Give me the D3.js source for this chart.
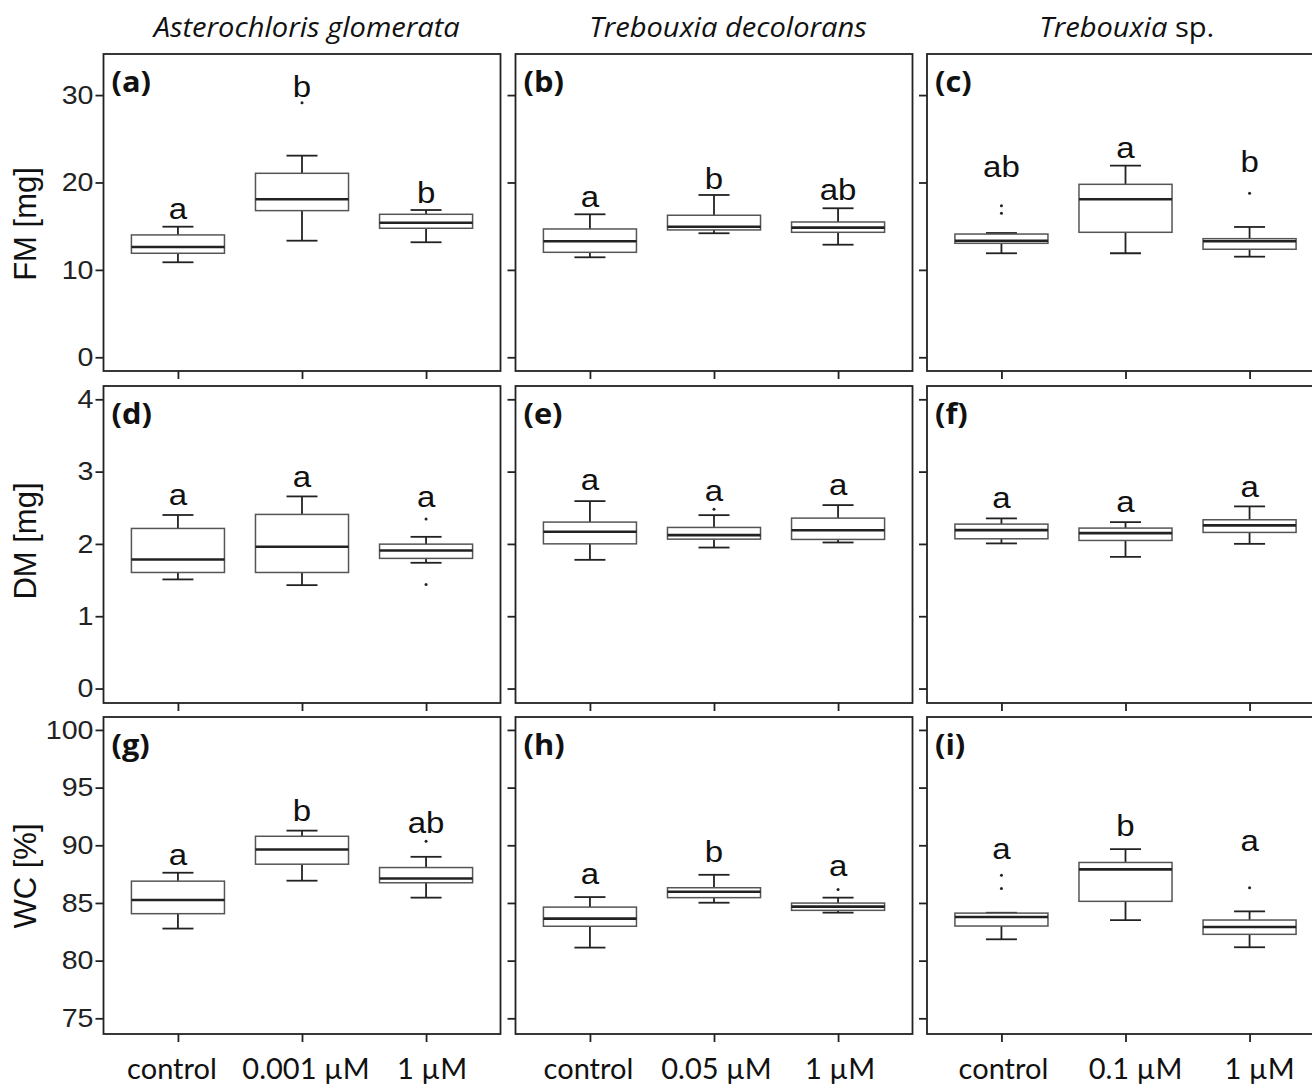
<!DOCTYPE html>
<html><head><meta charset="utf-8">
<script src="https://cdn.jsdelivr.net/npm/d3@7"></script>
<style>body{margin:0;background:#fff;overflow:hidden}</style>
</head><body><svg id="c" width="1312" height="1085"></svg>
<script>
// ---------- data ----------
const species = ["Asterochloris glomerata", "Trebouxia decolorans", "Trebouxia"];
const speciesSuffix = ["", "", " sp."];
const treatments = [
  ["control", "0.001 µM", "1 µM"],
  ["control", "0.05 µM", "1 µM"],
  ["control", "0.1 µM", "1 µM"]
];
const variables = ["FM [mg]", "DM [mg]", "WC [%]"];
const yTicks = [[0, 10, 20, 30], [0, 1, 2, 3, 4], [75, 80, 85, 90, 95, 100]];
const yDomains = [[-1.57, 34.7], [-0.2, 4.184], [73.64, 101.12]];
const panelLabels = [["(a)", "(b)", "(c)"], ["(d)", "(e)", "(f)"], ["(g)", "(h)", "(i)"]];

// box statistics: [lower whisker, Q1, median, Q3, upper whisker]
const fmStats = [
  [[10.87, 11.9, 12.62, 14.0, 14.94], [13.34, 16.78, 18.08, 21.05, 23.07], [13.16, 14.76, 15.4, 16.36, 16.85]],
  [[11.44, 12.01, 13.27, 14.68, 16.36], [14.19, 14.57, 14.94, 16.25, 18.57], [12.88, 14.3, 14.83, 15.48, 17.05]],
  [[11.9, 13.04, 13.34, 14.1, 14.22], [11.9, 14.3, 18.08, 19.79, 21.92], [11.51, 12.36, 13.27, 13.57, 14.91]]
];
const dmStats = [
  [[1.509, 1.605, 1.785, 2.214, 2.40], [1.43, 1.605, 1.96, 2.408, 2.657], [1.739, 1.80, 1.91, 1.997, 2.098]],
  [[1.78, 2.001, 2.168, 2.302, 2.592], [1.95, 2.066, 2.122, 2.228, 2.398], [2.02, 2.062, 2.19, 2.357, 2.537]],
  [[2.007, 2.071, 2.191, 2.274, 2.353], [1.822, 2.048, 2.15, 2.219, 2.302], [2.001, 2.159, 2.256, 2.334, 2.519]]
];
const wcStats = [
  [[82.78, 84.07, 85.25, 86.89, 87.62], [86.93, 88.36, 89.63, 90.78, 91.27], [85.46, 86.75, 87.12, 88.07, 89.0]],
  [[81.13, 82.98, 83.64, 84.64, 85.51], [85.02, 85.46, 85.97, 86.32, 87.44], [84.16, 84.36, 84.68, 84.99, 85.46]],
  [[81.85, 83.0, 83.78, 84.12, 84.15], [83.52, 85.14, 87.91, 88.51, 89.66], [81.16, 82.28, 82.92, 83.52, 84.27]]
];
const fmOutliers = [[[], [29.13], []], [[], [], []], [[17.35, 16.47], [], [18.76]]];
const dmOutliers = [[[], [], [2.343, 1.44]], [[], [2.478], []], [[], [], []]];
const wcOutliers = [[[], [], [90.35]], [[], [], [86.17]], [[87.41, 86.26], [], [86.32]]];

const fmLetters = [["a", "b", "b"], ["a", "b", "ab"], ["ab", "a", "b"]];
const dmLetters = [["a", "a", "a"], ["a", "a", "a"], ["a", "a", "a"]];
const wcLetters = [["a", "b", "ab"], ["a", "b", "a"], ["a", "b", "a"]];
const fmLetterY = [[15.8, 29.8, 17.7], [17.2, 19.3, 18.0], [20.66, 22.84, 21.24]];
const dmLetterY = [[2.54, 2.79, 2.505], [2.745, 2.597, 2.675], [2.50, 2.445, 2.652]];
const wcLetterY = [[88.33, 92.08, 91.07], [86.67, 88.53, 87.32], [88.79, 90.78, 89.52]];

const statsByRow = [fmStats, dmStats, wcStats];
const outliersByRow = [fmOutliers, dmOutliers, wcOutliers];
const lettersByRow = [fmLetters, dmLetters, wcLetters];
const letterYByRow = [fmLetterY, dmLetterY, wcLetterY];

// ---------- layout ----------
const panelLeft = [103.5, 515.5, 927];
const panelW = 397;
const panelTop = [54, 386, 717];
const panelH = 317;
const yTitleCenter = [224, 541, 876];
const titleCenter = [306.7, 728, 1126.7];
const xLabelShift = [[-6, 4, 6], [-1.5, 2.5, 2], [2, 10, 10]];
const SX = 1.1; // horizontal stretch of plot text
const svg = d3.select("#c");
const AR = "'Liberation Sans', Arial, sans-serif";
const CAL = "Lato, 'Open Sans', sans-serif";
const OS = "'Open Sans', Lato, sans-serif";

// column titles
species.forEach((s, j) => {
  const t = svg.append("text").attr("transform", `translate(${titleCenter[j]},37) scale(1.04,1)`)
    .attr("text-anchor", "middle").attr("font-family", OS).attr("font-size", 28).attr("fill", "#111");
  t.append("tspan").attr("font-style", "italic").text(s);
  if (speciesSuffix[j]) t.append("tspan").text(speciesSuffix[j]);
});

// y titles
variables.forEach((v, i) => {
  svg.append("text").attr("transform", `translate(36,${yTitleCenter[i]}) rotate(-90)`)
    .attr("text-anchor", "middle").attr("font-family", AR).attr("font-size", 31).attr("fill", "#111").text(v);
});

for (let i = 0; i < 3; i++) {
  for (let j = 0; j < 3; j++) {
    const L = panelLeft[j], T = panelTop[i];
    const x = d3.scalePoint().domain(treatments[j]).range([L, L + panelW]).padding(0.6);
    const y = d3.scaleLinear().domain(yDomains[i]).range([T + panelH, T]);
    const bw = x.step() * 0.75;
    const g = svg.append("g");

    // y axis
    const ya = g.append("g").attr("transform", `translate(${L},0)`)
      .call(d3.axisLeft(y).tickValues(yTicks[i]).tickSize(8).tickPadding(2)
        .tickFormat(j === 0 ? d3.format("d") : ""));
    ya.select(".domain").remove();
    ya.selectAll("line").attr("stroke", "#222").attr("stroke-width", 1.8);
    ya.selectAll("text").attr("font-family", AR).attr("font-size", 26).attr("fill", "#222")
      .attr("transform", `scale(${SX},1)`)
      .attr("x", -10 / SX);
    // x axis
    const xa = g.append("g").attr("transform", `translate(0,${T + panelH})`)
      .call(d3.axisBottom(x).tickSize(8).tickFormat(""));
    xa.select(".domain").remove();
    xa.selectAll("line").attr("stroke", "#222").attr("stroke-width", 1.8);

    const stats = statsByRow[i][j];
    treatments[j].forEach((c, k) => {
      const s = stats[k], cx = x(c);
      // whiskers
      g.append("line").attr("x1", cx).attr("x2", cx).attr("y1", y(s[3])).attr("y2", y(s[4]))
        .attr("stroke", "#222").attr("stroke-width", 1.8);
      g.append("line").attr("x1", cx).attr("x2", cx).attr("y1", y(s[1])).attr("y2", y(s[0]))
        .attr("stroke", "#222").attr("stroke-width", 1.8);
      [s[0], s[4]].forEach(v => g.append("line").attr("x1", cx - bw / 6).attr("x2", cx + bw / 6)
        .attr("y1", y(v)).attr("y2", y(v)).attr("stroke", "#222").attr("stroke-width", 1.8));
      // box
      g.append("rect").attr("x", cx - bw / 2).attr("width", bw)
        .attr("y", y(s[3])).attr("height", y(s[1]) - y(s[3]))
        .attr("fill", "#fff").attr("stroke", "#555").attr("stroke-width", 1.5);
      g.append("line").attr("x1", cx - bw / 2).attr("x2", cx + bw / 2).attr("y1", y(s[2])).attr("y2", y(s[2]))
        .attr("stroke", "#222").attr("stroke-width", 2.6);
      // outliers
      outliersByRow[i][j][k].forEach(o => g.append("circle").attr("cx", cx).attr("cy", y(o)).attr("r", 1.5).attr("fill", "#222"));
      // letters
      g.append("text").attr("transform", `translate(${cx},${y(letterYByRow[i][j][k])}) scale(${SX},1)`)
        .attr("text-anchor", "middle").attr("font-family", AR).attr("font-size", 30).attr("fill", "#111")
        .text(lettersByRow[i][j][k]);
    });

    // frame
    g.append("rect").attr("x", L).attr("y", T).attr("width", panelW).attr("height", panelH)
      .attr("fill", "none").attr("stroke", "#222").attr("stroke-width", 1.8);
    // panel label
    g.append("text").attr("transform", `translate(${L + 8},${T + 38}) scale(1.1,1)`)
      .attr("font-family", OS).attr("font-weight", "bold")
      .attr("font-size", 28).attr("fill", "#111").text(panelLabels[i][j]);

    // x labels on bottom row
    if (i === 2) {
      treatments[j].forEach((c, k) => {
        svg.append("text").attr("x", x(c) + xLabelShift[j][k]).attr("y", 1079).attr("text-anchor", "middle")
          .attr("font-family", CAL).attr("font-size", 29).attr("fill", "#111").text(c);
      });
    }
  }
}
</script></body></html>
